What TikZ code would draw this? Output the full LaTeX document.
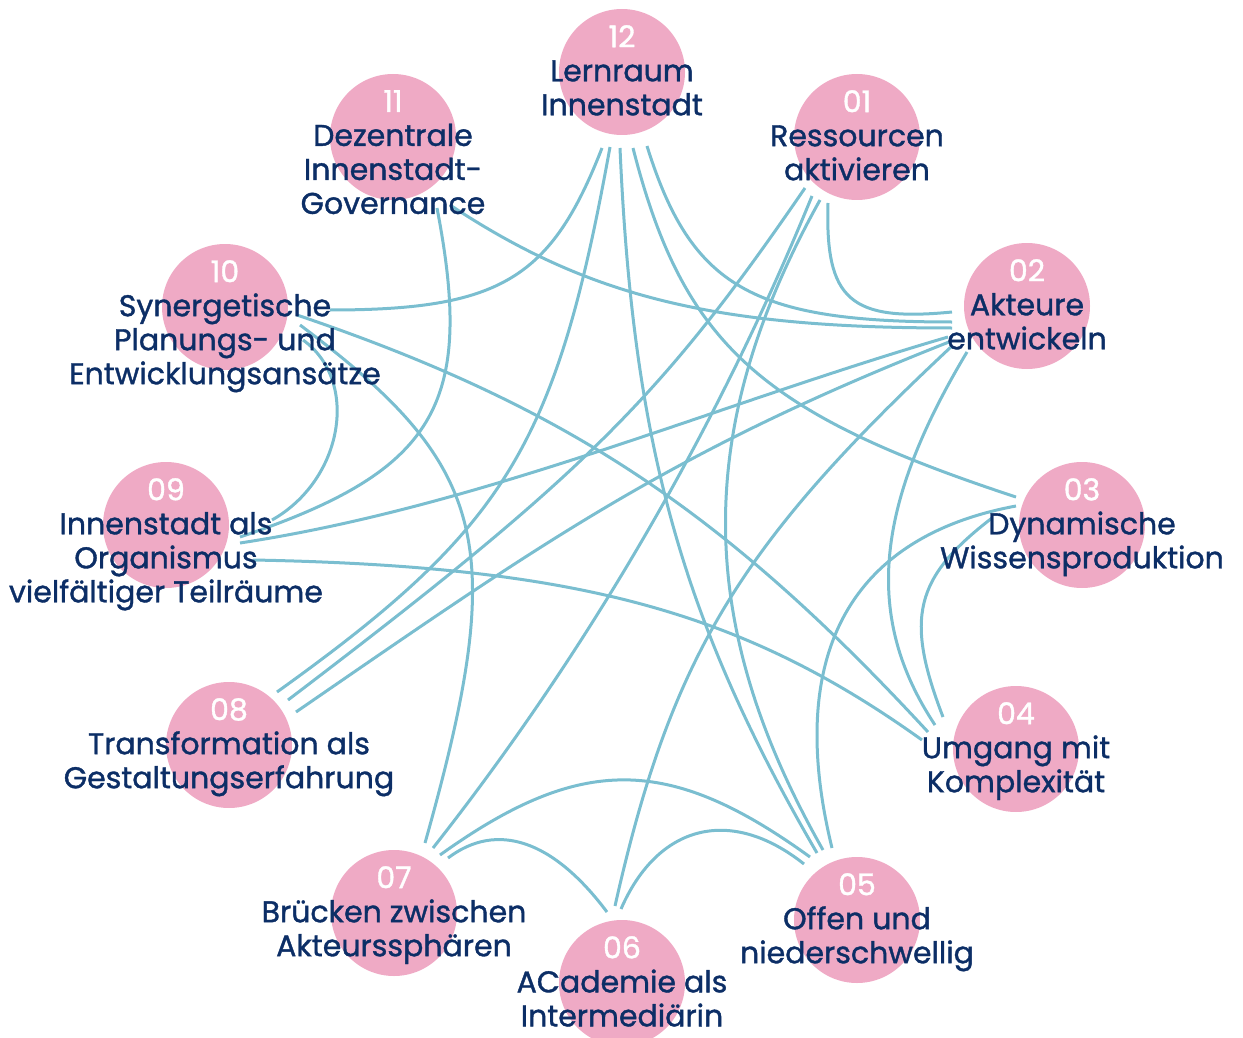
\documentclass[tikz,border=0pt]{standalone}
\usepackage{fontspec}
\setmainfont{Poppins}[FakeBold=1.2]
\definecolor{bubblepink}{RGB}{239,170,197}
\definecolor{labelnavy}{RGB}{12,46,102}
\definecolor{linkblue}{RGB}{122,190,208}

\begin{document}
\begin{tikzpicture}[
        x=1pt, y=1pt,
        tbubble/.style={
            circle,
            fill=bubblepink,
            minimum size=126pt,
            inner sep=0pt
        },
        tlabel/.style={
            anchor=north,
            align=center,
            text=labelnavy,
            font=\fontsize{30}{34}\selectfont,
            inner sep=0pt
        },
        link/.style={
            draw=linkblue,
            line width=3pt
        }
        ]

        \useasboundingbox (0,0) rectangle (1243,-1038);

        \node (n12) [tbubble] at (622,-72) {};
        \node (n01) [tbubble] at (857,-137) {};
        \node (n02) [tbubble] at (1027,-306) {};
        \node (n03) [tbubble] at (1082,-525) {};
        \node (n04) [tbubble] at (1016,-749) {};
        \node (n05) [tbubble] at (857,-920) {};
        \node (n06) [tbubble] at (622,-983) {};
        \node (n07) [tbubble] at (394,-913) {};
        \node (n08) [tbubble] at (229,-745) {};
        \node (n09) [tbubble] at (166,-525) {};
        \node (n10) [tbubble] at (225,-307) {};
        \node (n11) [tbubble] at (393,-137) {};

        % links from 12
        \draw [link] ([shift={(-20,-76)}]n12.center) .. controls +(-51,-131) and +(170,0) .. ([shift={(105,-3)}]n10.center);
        \draw [link] ([shift={(-12,-75)}]n12.center) .. controls +(-54,-299) and +(229,164) .. ([shift={(48,53)}]n08.center);
        \draw [link] ([shift={(-2,-76)}]n12.center) .. controls +(13,-297) and +(-135,232) .. ([shift={(-40,67)}]n05.center);
        \draw [link] ([shift={(11,-76)}]n12.center) .. controls +(50,-196) and +(-256,84) .. ([shift={(-66,28)}]n03.center);
        \draw [link] ([shift={(25,-74)}]n12.center) .. controls +(44,-141) and +(-200,0) .. ([shift={(-75,-16)}]n02.center);

        % links from 11
        \draw [link] ([shift={(44,-71)}]n11.center) .. controls +(38,-197) and +(196,66) .. ([shift={(74,-12)}]n09.center);
        \draw [link] ([shift={(57,-68)}]n11.center) .. controls +(139,-92) and +(-237,0) .. ([shift={(-75,-22)}]n02.center);

        % links from 01
        \draw [link] ([shift={(-29,-66)}]n01.center) .. controls +(-3,-97) and +(-102,-10) .. ([shift={(-75,-6)}]n02.center);
        \draw [link] ([shift={(-37,-63)}]n01.center) .. controls +(-127,-228) and +(-129,227) .. ([shift={(-34,70)}]n05.center);
        \draw [link] ([shift={(-52,-51)}]n01.center) .. controls +(-144,-210) and +(296,225) .. ([shift={(59,45)}]n08.center);
        \draw [link] ([shift={(-45,-59)}]n01.center) .. controls +(-95,-233) and +(155,197) .. ([shift={(39,65)}]n07.center);

        % links from 10 and 09
        \draw [link] ([shift={(72,-8)}]n10.center) .. controls +(268,-91) and +(-205,222) .. ([shift={(-88,17)}]n04.center);
        \draw [link] ([shift={(75,-18)}]n10.center) .. controls +(190,-142) and +(84,298) .. ([shift={(31,70)}]n07.center);
        \draw [link] ([shift={(78,-33)}]n10.center) .. controls +(57,-41) and +(71,40) .. ([shift={(106,5)}]n09.center);
        \draw [link] ([shift={(74,-18)}]n09.center) .. controls +(243,37) and +(-236,-69) .. ([shift={(-79,-31)}]n02.center);
        \draw [link] ([shift={(87,-35)}]n09.center) .. controls +(322,-6) and +(-180,129) .. ([shift={(-94,9)}]n04.center);

        % links on the right side
        \draw [link] ([shift={(-60,-46)}]n02.center) .. controls +(-93,-155) and +(-71,107) .. ([shift={(-81,24)}]n04.center);
        \draw [link] ([shift={(-78,-36)}]n02.center) .. controls +(-279,-110) and +(247,170) .. ([shift={(67,33)}]n08.center);
        \draw [link] ([shift={(-90,7)}]n03.center) .. controls +(-78,-60) and +(-38,99) .. ([shift={(-73,32)}]n04.center);
        \draw [link] ([shift={(-66,19)}]n03.center) .. controls +(-167,-31) and +(-47,192) .. ([shift={(-25,72)}]n05.center);

        % links at the bottom
        \draw [link] ([shift={(46,58)}]n07.center) .. controls +(141,101) and +(-141,102) .. ([shift={(-47,63)}]n05.center);
        \draw [link] ([shift={(54,55)}]n07.center) .. controls +(49,37) and +(-54,72) .. ([shift={(-15,71)}]n06.center);
        \draw [link] ([shift={(-1,74)}]n06.center) .. controls +(37,85) and +(-73,58) .. ([shift={(-53,56)}]n05.center);
        \draw [link] ([shift={(-7,77)}]n06.center) .. controls +(56,249) and +(-213,-199) .. ([shift={(-75,-40)}]n02.center);

        % numbers and labels
        \node (t12) [tlabel] at ([yshift=47pt]n12.center) {{\color{white}12}\\Lernraum\\Innenstadt};
        \node (t01) [tlabel] at ([yshift=47pt]n01.center) {{\color{white}01}\\Ressourcen\\aktivieren};
        \node (t02) [tlabel] at ([yshift=47pt]n02.center) {{\color{white}02}\\Akteure\\entwickeln};
        \node (t03) [tlabel] at ([yshift=47pt]n03.center) {{\color{white}03}\\Dynamische\\Wissensproduktion};
        \node (t04) [tlabel] at ([yshift=47pt]n04.center) {{\color{white}04}\\Umgang mit\\Komplexität};
        \node (t05) [tlabel] at ([yshift=47pt]n05.center) {{\color{white}05}\\Offen und\\niederschwellig};
        \node (t06) [tlabel] at ([yshift=47pt]n06.center) {{\color{white}06}\\ACademie als\\Intermediärin};
        \node (t07) [tlabel] at ([yshift=47pt]n07.center) {{\color{white}07}\\Brücken zwischen\\Akteurssphären};
        \node (t08) [tlabel] at ([yshift=47pt]n08.center) {{\color{white}08}\\Transformation als\\Gestaltungserfahrung};
        \node (t09) [tlabel] at ([yshift=47pt]n09.center) {{\color{white}09}\\Innenstadt als\\Organismus\\vielfältiger Teilräume};
        \node (t10) [tlabel] at ([yshift=47pt]n10.center) {{\color{white}10}\\Synergetische\\Planungs- und\\Entwicklungsansätze};
        \node (t11) [tlabel] at ([yshift=47pt]n11.center) {{\color{white}11}\\Dezentrale\\Innenstadt-\\Governance};

    \end{tikzpicture}
\end{document}
